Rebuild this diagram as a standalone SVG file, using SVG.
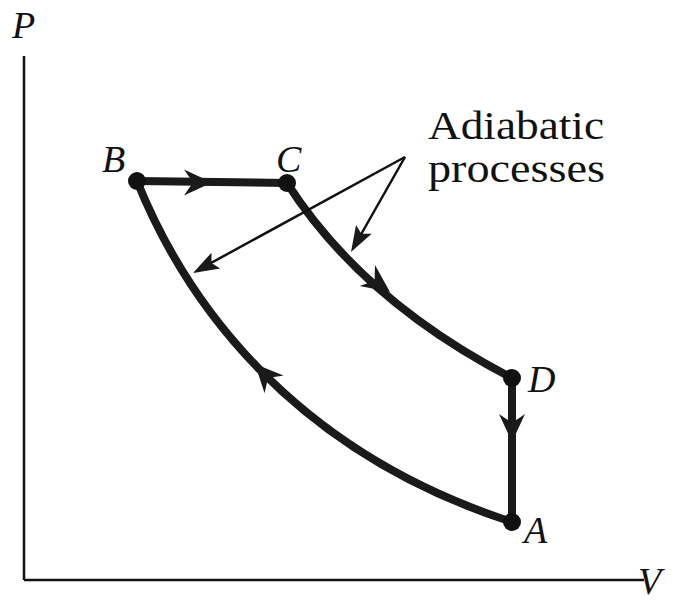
<svg xmlns="http://www.w3.org/2000/svg" width="683" height="602" viewBox="0 0 683 602">
<style>
.axis{stroke:#111;stroke-width:2.5;fill:none}
.proc{stroke:#1a1a1a;stroke-width:8;fill:none;stroke-linecap:round}
.ptr{stroke:#111;stroke-width:2.5;fill:none}
.head{fill:#1a1a1a}
.dot{fill:#111}
.lbl{font-family:"Liberation Serif",serif;font-style:italic;font-size:38px;fill:#111}
.note{font-family:"Liberation Serif",serif;font-size:40px;fill:#111}
</style>
<defs>
<path id="barb" d="M0,0 L-28,-13 L-19,0 L-28,13 Z"/>
<path id="tri" d="M0,0 L-26,-9 L-21,0 L-26,9 Z"/>
</defs>
<g id="axes">
<line class="axis" x1="24" y1="56" x2="24" y2="580"/>
<line class="axis" x1="24" y1="580" x2="644" y2="580"/>
<text class="lbl" x="12" y="38">P</text>
<text class="lbl" x="638" y="594" font-size="36">V</text>
</g>
<g id="connectors">
<line class="proc" x1="137" y1="181" x2="287" y2="183"/>
<path class="proc" d="M287,183 C330,250 400,320 512,378"/>
<line class="proc" x1="512" y1="378" x2="512" y2="522"/>
<path class="proc" d="M512,522 C290,450 185,300 137,181"/>
<use href="#barb" class="head" transform="translate(212,182.5) rotate(0)"/>
<use href="#barb" class="head" transform="translate(390,292) rotate(36)"/>
<use href="#barb" class="head" transform="translate(512,442) rotate(90)"/>
<use href="#barb" class="head" transform="translate(255,364) rotate(-133)"/>
<line class="ptr" x1="405" y1="157" x2="200" y2="269"/>
<line class="ptr" x1="405" y1="157" x2="355" y2="245"/>
<use href="#tri" class="head" transform="translate(193,273) rotate(151.4)"/>
<use href="#tri" class="head" transform="translate(351,252) rotate(119.6)"/>
</g>
<g id="node-B">
<circle class="dot" cx="137" cy="181" r="9"/>
<text class="lbl" x="102" y="172">B</text>
</g>
<g id="node-C">
<circle class="dot" cx="287" cy="183" r="9"/>
<text class="lbl" x="276" y="172">C</text>
</g>
<g id="node-D">
<circle class="dot" cx="512" cy="378" r="9"/>
<text class="lbl" x="528" y="392">D</text>
</g>
<g id="node-A">
<circle class="dot" cx="512" cy="522" r="9"/>
<text class="lbl" x="524" y="543">A</text>
</g>
<g id="label-adiabatic">
<text class="note" x="428" y="139" textLength="176" lengthAdjust="spacingAndGlyphs">Adiabatic</text>
<text class="note" x="428" y="182" textLength="177" lengthAdjust="spacingAndGlyphs">processes</text>
</g>
</svg>
